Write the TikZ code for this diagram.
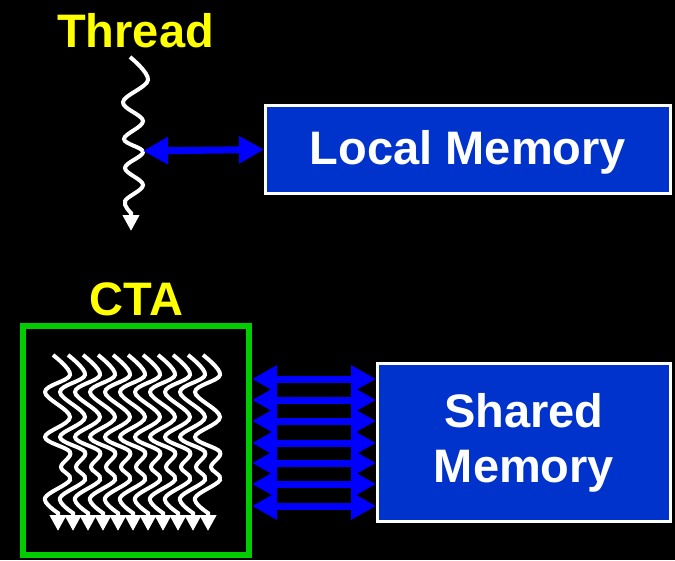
\documentclass[tikz,border=0pt]{standalone}
\usepackage{fontspec}
\setmainfont{Liberation Sans}
\usetikzlibrary{arrows.meta}
\definecolor{boxblue}{HTML}{0033CC}
\definecolor{arrblue}{HTML}{0000FF}
\definecolor{ctagreen}{HTML}{00CC00}
\definecolor{lblyellow}{HTML}{FFFF00}
\tikzset{
  lbl/.style={text=lblyellow, font=\fontsize{47}{50}\selectfont\bfseries, inner sep=0pt, anchor=base},
  membox/.style={draw=white, line width=3pt, fill=boxblue, text=white,
    font=\fontsize{47}{55}\selectfont\bfseries, align=center, inner sep=0pt},
  thread/.style={draw=white, line width=4pt, -{Triangle[width=16pt,length=16pt]}},
  biarrow/.style={draw=arrblue, line width=7pt, {Triangle[width=26pt,length=25pt]}-{Triangle[width=26pt,length=25pt]}}
}
\begin{document}
\begin{tikzpicture}[x=1pt,y=-1pt]
\fill[black] (0,0) rectangle (675,560);
\useasboundingbox (0,0) rectangle (675,560);
% labels
\node[lbl] (threadlbl) at (135.5,47) {Thread};
\node[lbl] (ctalbl) at (136.5,315) {CTA};
% memory boxes
\node[membox, minimum width=405pt, minimum height=88pt, text height=40pt, text depth=10pt] (local) at (468,149.5) {Local Memory};
\node[membox, minimum width=293pt, minimum height=158pt] (shared) at (524,442.5) {Shared\\Memory};
% CTA box
\node[draw=ctagreen, line width=6pt, minimum width=226pt, minimum height=229pt, inner sep=0pt] (cta) at (136,440.5) {};
% single thread
\draw[thread] plot[smooth, tension=0.6] coordinates {(130,57) (148,80) (123,102) (143,121) (124,139) (143,152) (125,168) (143,185) (125,201) (131,213)} -- (131,231);
\coordinate (tp) at (143,151);
\draw[biarrow] (tp) -- (local.west);
% CTA threads
\foreach \i in {0,...,10}{
  \begin{scope}[shift={(53+15*\i,355)}]
    \draw[thread] plot[smooth, tension=0.6] coordinates {(0,0) (17,20) (-8,37) (17,62) (-8,82) (17,97) (8,112) (17,125) (-8,143) (5,158)} -- (5,176);
  \end{scope}
}
% shared memory arrows
\foreach \yy in {379,400,421,443,463,484,506}{
  \draw[biarrow] (cta.east |- 0,\yy) -- (shared.west |- 0,\yy);
}
\end{tikzpicture}
\end{document}
